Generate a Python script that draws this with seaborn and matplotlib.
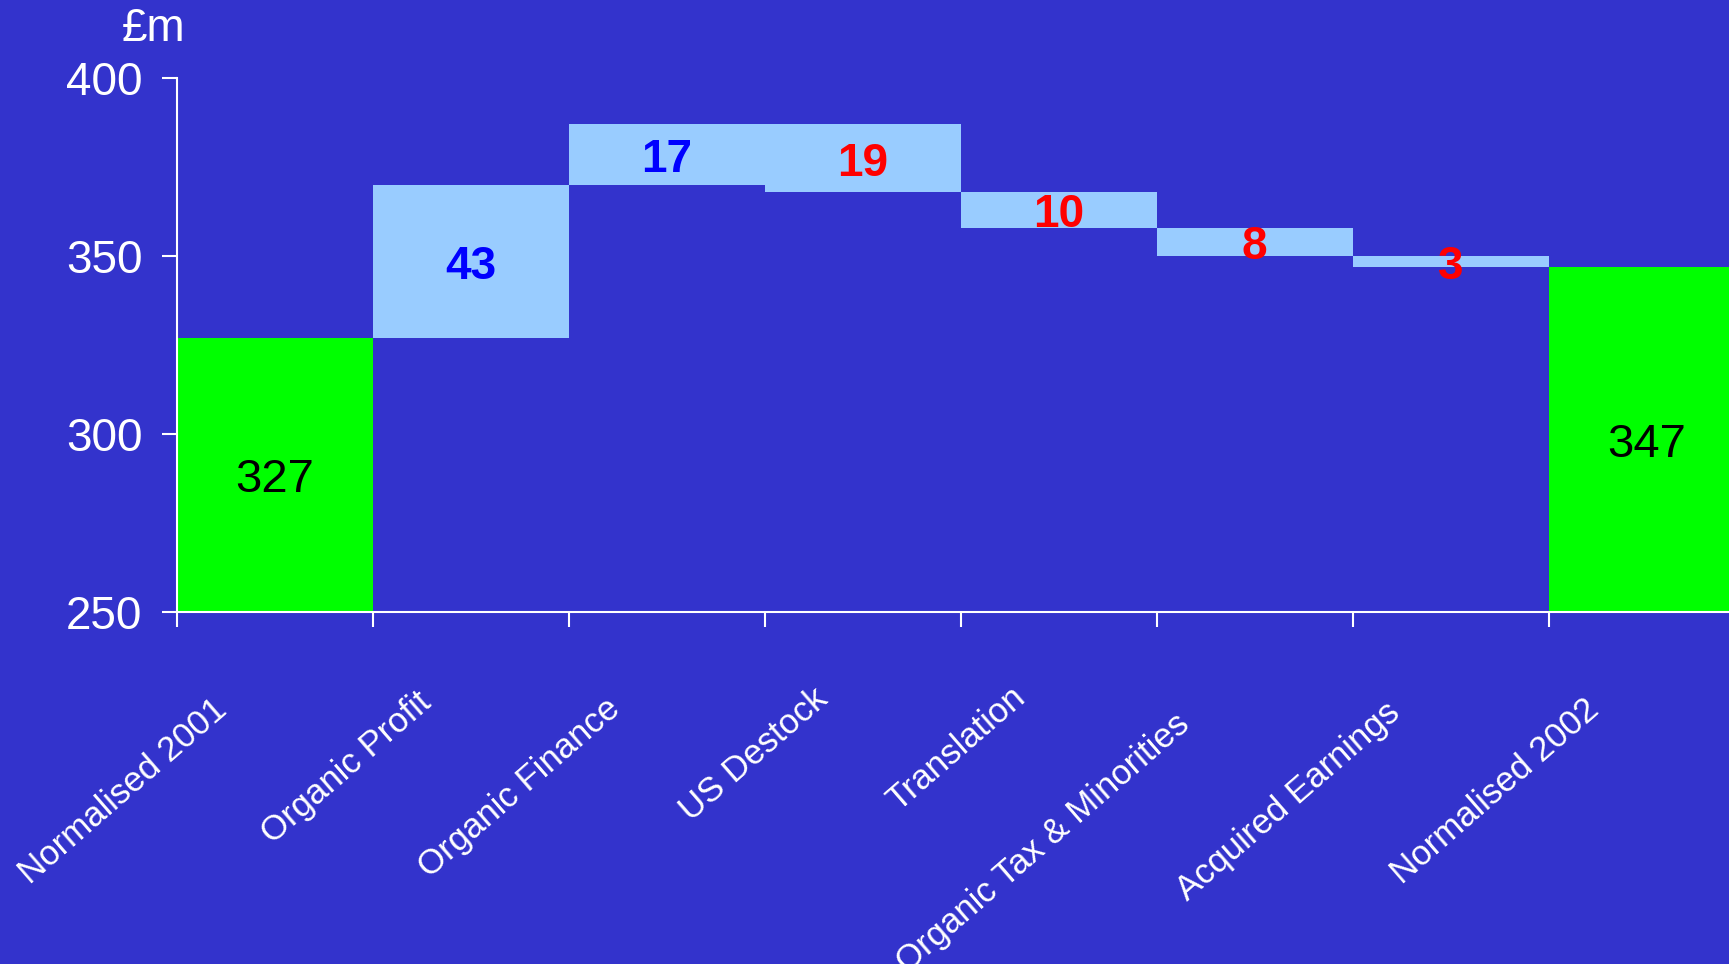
import matplotlib
matplotlib.use("Agg")
import matplotlib.pyplot as plt
import matplotlib.transforms as mtransforms
from matplotlib.font_manager import FontProperties
import seaborn as sns
import pandas as pd
import numpy as np

categories = ["Normalised 2001", "Organic Profit", "Organic Finance", "US Destock",
              "Translation", "Organic Tax & Minorities", "Acquired Earnings", "Normalised 2002"]
changes = [327, 43, 17, -19, -10, -8, -3, 347]
kinds = ["total", "up", "up", "down", "down", "down", "down", "total"]

# waterfall geometry derived from the values
bottoms, heights = [], []
running = 0
for v, k in zip(changes, kinds):
    if k == "total":
        bottoms.append(0)
        heights.append(v)
        running = v
    else:
        new = running + v
        bottoms.append(min(running, new))
        heights.append(abs(v))
        running = new

BG = "#3333CC"
GREEN = "#00FF00"
LIGHT = "#99CCFF"
kind_color = {"total": GREEN, "up": LIGHT, "down": LIGHT}
label_color = {"total": "black", "up": "#0000FF", "down": "#FF0000"}

sns.set_theme(style="white")
plt.rcParams["font.family"] = ["Liberation Sans", "DejaVu Sans"]

dpi = 100
fig = plt.figure(figsize=(17.29, 9.64), dpi=dpi, facecolor=BG)
ax = fig.add_axes([177 / 1729, (964 - 612) / 964, 1 - 177 / 1729, (612 - 78) / 964])
ax.set_facecolor(BG)

df = pd.DataFrame({"cat": categories, "height": heights})
sns.barplot(data=df, x="cat", y="height", bottom=bottoms, width=1.0, linewidth=0,
            color=LIGHT, ax=ax, errorbar=None, saturation=1)
for patch, k in zip(ax.patches, kinds):
    patch.set_facecolor(kind_color[k])
    patch.set_edgecolor("none")

# value labels centred in visible part of each bar
ymin, ymax = 250, 400
for i, (v, k, b, h) in enumerate(zip(changes, kinds, bottoms, heights)):
    lo = max(b, ymin)
    hi = b + h
    yc = (lo + hi) / 2
    if k == "total":
        ax.annotate(f"{abs(v)}", (i, yc), xytext=(0, -4), textcoords="offset points",
                    ha="center", va="center", color="black", fontsize=34, zorder=5)
    else:
        ax.annotate(f"{abs(v)}", (i, yc), xytext=(0, -4), textcoords="offset points",
                    ha="center", va="center", color=label_color[k], fontsize=33,
                    fontweight="bold", zorder=5)

ax.set_ylim(ymin, ymax)
ax.set_xlim(-0.5, 7.42)
ax.set_yticks([250, 300, 350, 400])
ax.set_yticklabels(["250", "300", "350", "400"])

n = len(categories)
ax.set_xticks(np.arange(n) - 0.5)
ax.set_xticklabels([])
ax.set_xlabel("")
ax.set_ylabel("")

for s in ["top", "right"]:
    ax.spines[s].set_visible(False)
for s in ["left", "bottom"]:
    ax.spines[s].set_color("white")
    ax.spines[s].set_linewidth(1.5)

ax.tick_params(axis="y", which="major", direction="out", length=10.8, width=1.5,
               color="white", labelcolor="white", labelsize=33, pad=14, left=True)
ax.tick_params(axis="x", which="major", direction="out", length=10.8, width=1.5,
               color="white", bottom=True)

# rotated category labels (Excel-like placement: end drifts down-left with length)
angle = 41
ca, sa = np.cos(np.radians(angle)), np.sin(np.radians(angle))
lab_size = 25
prop = FontProperties(family=["Liberation Sans", "DejaVu Sans"], size=lab_size)
renderer = fig.canvas.get_renderer()
base = mtransforms.blended_transform_factory(ax.transData, ax.transAxes)
for i, cat in enumerate(categories):
    w, _, _ = renderer.get_text_width_height_descent(cat, prop, ismath=False)
    along = 0.203 * w - 53.8
    perp = 18.7
    dx = along * (-ca) + perp * (-sa)
    dy = along * (-sa) + perp * (ca) - 95
    tr = base + mtransforms.ScaledTranslation(dx / dpi, dy / dpi, fig.dpi_scale_trans)
    ax.text(i - 0.26, 0, cat, transform=tr, rotation=angle, rotation_mode="anchor",
            ha="right", va="top", color="white", fontproperties=prop, clip_on=False)

fig.text(154 / 1729, 1 - 29 / 964, "£m", ha="center", va="center", color="white",
         fontsize=33)

fig.savefig("out.png", dpi=dpi, facecolor=BG)
